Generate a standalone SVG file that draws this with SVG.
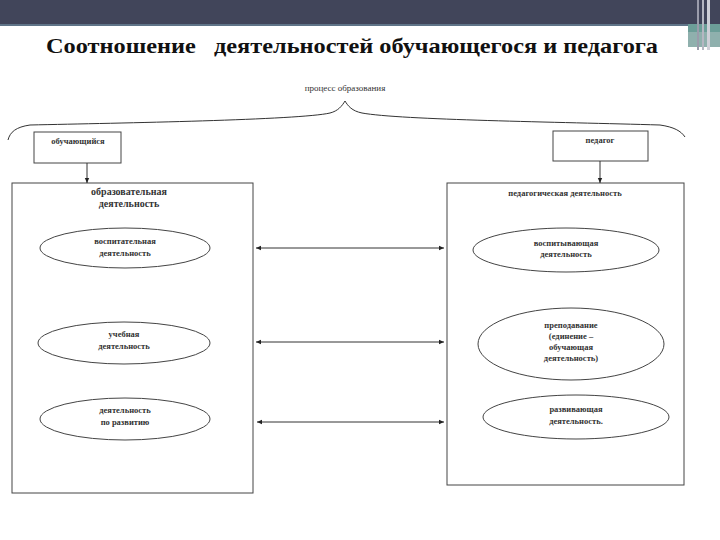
<svg xmlns="http://www.w3.org/2000/svg" width="720" height="540" viewBox="0 0 720 540">
<defs>
<marker id="ah" markerWidth="6" markerHeight="6" refX="5" refY="3" orient="auto-start-reverse" markerUnits="userSpaceOnUse">
<path d="M0,0.8 L5,3 L0,5.2 Z" fill="#222"/>
</marker>
<style>
.ln{fill:none;stroke:#333;stroke-width:1}
.bx{fill:#fff;stroke:#444;stroke-width:1}
.el{fill:#fff;stroke:#444;stroke-width:1}
.t{font-family:"Liberation Serif","DejaVu Serif",serif;font-size:8.5px;font-weight:bold;fill:#333;text-anchor:middle}
.tt{font-family:"Liberation Serif","DejaVu Serif",serif;font-size:9px;fill:#333;text-anchor:middle}
</style>
</defs>
<rect x="0" y="0" width="720" height="540" fill="#fff"/>
<g id="header">
<rect x="0" y="0" width="720" height="24" fill="#41455a"/>
<rect x="0" y="24" width="690" height="2" fill="#5f7488"/>
<rect x="688" y="24" width="32" height="23" fill="#8fb0ad"/>
<rect x="688" y="24" width="32" height="8" fill="#6c9e98"/>
<rect x="697" y="0" width="2" height="50" fill="#9a9cab"/>
<rect x="702" y="0" width="2" height="50" fill="#b5b7c2"/>
<rect x="707" y="0" width="3" height="50" fill="#cfd0d8"/>
</g>
<text id="title" x="352" y="53" font-family="Liberation Serif, DejaVu Serif, serif" font-size="22" font-weight="bold" fill="#111" text-anchor="middle" textLength="612" lengthAdjust="spacingAndGlyphs" style="white-space:pre" xml:space="preserve">Соотношение   деятельностей обучающегося и педагога</text>
<g id="process">
<text class="tt" x="345" y="91">процесс образования</text>
<path class="ln" d="M8,140 C10,132 16,127 30,125 C120,123 300,120 330,113 C338,111 342,106 345,101 C348,106 352,111 362,113 C400,120 560,122 660,125 C674,127 681,131 685,137"/>
</g>
<g id="student">
<rect class="bx" x="34" y="132" width="87" height="31"/>
<text class="t" x="78" y="144">обучающийся</text>
</g>
<g id="teacher">
<rect class="bx" x="553" y="131" width="95" height="30"/>
<text class="t" x="600" y="143">педагог</text>
</g>
<g id="left-box">
<rect class="bx" x="12" y="183" width="241" height="310"/>
<text class="t" x="129" y="195" style="font-size:10px">образовательная</text>
<text class="t" x="129" y="207" style="font-size:10px">деятельность</text>
</g>
<g id="right-box">
<rect class="bx" x="447" y="183" width="237" height="302"/>
<text class="t" x="565" y="196">педагогическая деятельность</text>
</g>
<g id="l1">
<ellipse class="el" cx="125" cy="248" rx="85" ry="20"/>
<text class="t" x="125" y="244">воспитательная</text>
<text class="t" x="125" y="256">деятельность</text>
</g>
<g id="l2">
<ellipse class="el" cx="124" cy="343" rx="86" ry="21"/>
<text class="t" x="124" y="337">учебная</text>
<text class="t" x="124" y="349">деятельность</text>
</g>
<g id="l3">
<ellipse class="el" cx="125" cy="419" rx="85" ry="21"/>
<text class="t" x="125" y="413">деятельность</text>
<text class="t" x="125" y="425">по развитию</text>
</g>
<g id="r1">
<ellipse class="el" cx="566" cy="250" rx="93" ry="22"/>
<text class="t" x="566" y="246">воспитывающая</text>
<text class="t" x="566" y="257">деятельность</text>
</g>
<g id="r2">
<ellipse class="el" cx="571" cy="344" rx="93" ry="36"/>
<text class="t" x="571" y="328">преподавание</text>
<text class="t" x="571" y="339">(единение –</text>
<text class="t" x="571" y="350">обучающая</text>
<text class="t" x="571" y="361">деятельность)</text>
</g>
<g id="r3">
<ellipse class="el" cx="576" cy="417" rx="93" ry="22"/>
<text class="t" x="576" y="412">развивающая</text>
<text class="t" x="576" y="424">деятельность.</text>
</g>
<g id="connectors">
<line class="ln" x1="87" y1="163" x2="87" y2="183" marker-end="url(#ah)"/>
<line class="ln" x1="600" y1="161" x2="600" y2="183" marker-end="url(#ah)"/>
<line class="ln" x1="256" y1="248" x2="444" y2="248" marker-start="url(#ah)" marker-end="url(#ah)"/>
<line class="ln" x1="256" y1="342" x2="444" y2="342" marker-start="url(#ah)" marker-end="url(#ah)"/>
<line class="ln" x1="257" y1="422" x2="444" y2="422" marker-start="url(#ah)" marker-end="url(#ah)"/>
</g>
</svg>
